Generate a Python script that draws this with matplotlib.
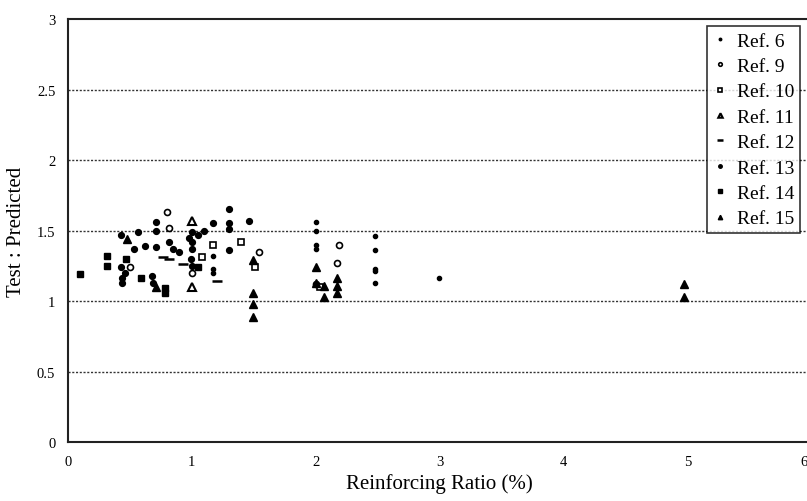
import matplotlib
matplotlib.use('Agg')
import matplotlib.pyplot as plt

plt.rcParams['font.family'] = ['Liberation Serif', 'DejaVu Serif']

# data: reinforcing ratio (%) and test : predicted
ref6_x = [2.0, 2.0, 2.0, 2.0, 2.48, 2.48, 2.48, 2.48, 2.48, 2.99, 1.17, 1.17, 1.17]
ref6_y = [1.56, 1.50, 1.40, 1.37, 1.46, 1.36, 1.23, 1.21, 1.13, 1.16, 1.32, 1.23, 1.20]

ref9_x = [0.80, 0.82, 0.50, 1.00, 1.54, 2.19, 2.17, 2.00]
ref9_y = [1.63, 1.52, 1.24, 1.20, 1.35, 1.40, 1.27, 1.12]

ref10_x = [1.08, 1.17, 1.40, 1.51, 2.03]
ref10_y = [1.31, 1.40, 1.42, 1.24, 1.10]

ref11_x = [1.00, 1.00]
ref11_y = [1.57, 1.10]

ref12_x = [0.77, 0.82, 0.93, 1.20]
ref12_y = [1.31, 1.30, 1.26, 1.14]

ref13_x = [0.43, 0.57, 0.53, 0.62, 0.71, 0.71, 0.71, 0.82, 0.85, 0.90,
           1.00, 0.98, 1.00, 1.05, 1.10, 1.17, 1.00, 0.99, 1.00,
           1.30, 1.30, 1.30, 1.30, 1.46, 0.43, 0.44, 0.46, 0.44, 0.68, 0.69]
ref13_y = [1.47, 1.49, 1.37, 1.39, 1.56, 1.50, 1.38, 1.42, 1.37, 1.35,
           1.49, 1.45, 1.42, 1.47, 1.50, 1.55, 1.37, 1.30, 1.25,
           1.65, 1.55, 1.51, 1.36, 1.57, 1.24, 1.16, 1.20, 1.13, 1.18, 1.13]

ref14_x = [0.10, 0.32, 0.32, 0.59, 0.78, 0.78, 1.05, 0.47]
ref14_y = [1.19, 1.25, 1.32, 1.16, 1.06, 1.09, 1.24, 1.30]

ref15_x = [0.48, 1.49, 1.49, 1.49, 1.49, 2.00, 2.00, 2.07, 2.07, 2.17, 2.17, 2.17, 4.97, 4.97, 0.71]
ref15_y = [1.44, 1.29, 1.06, 0.98, 0.89, 1.24, 1.13, 1.11, 1.03, 1.16, 1.11, 1.06, 1.12, 1.03, 1.10]

x_ticks = [0, 1, 2, 3, 4, 5, 6]
x_labels = ['0', '1', '2', '3', '4', '5', '']
y_ticks = [0, 0.5, 1, 1.5, 2, 2.5, 3]
y_labels = ['0', '0.5', '1', '1.5', '2', '2.5', '3']

fig = plt.figure(figsize=(8.07, 5.02), dpi=100)
# the scan cuts the plot off on the right, so the axes run past the edge
ax = fig.add_axes([0.084, 0.1175, 0.922, 0.8425])

# dotted reference lines
for yv in [0.5, 1.0, 1.5, 2.0, 2.5]:
    ax.axhline(yv, color='#333333', linestyle=(0, (1.5, 1.2)), linewidth=1.0, zorder=1)

ax.plot(ref6_x, ref6_y, 'o', color='black', markersize=3, linestyle='none', label='Ref. 6')
ax.plot(ref9_x, ref9_y, 'o', markerfacecolor='white', markeredgecolor='black', markeredgewidth=1.2,
        markersize=4.3, linestyle='none', label='Ref. 9')
ax.plot(ref10_x, ref10_y, 's', markerfacecolor='white', markeredgecolor='black', markeredgewidth=1.2,
        markersize=4.8, linestyle='none', label='Ref. 10')
ax.plot(ref11_x, ref11_y, '^', markerfacecolor='white', markeredgecolor='black', markeredgewidth=1.5,
        markersize=5.3, linestyle='none', label='Ref. 11')
ax.plot(ref12_x, ref12_y, '_', color='black', markersize=7, markeredgewidth=1.8, linestyle='none', label='Ref. 12')
ax.plot(ref13_x, ref13_y, 'o', color='black', markersize=4.2, linestyle='none', label='Ref. 13')
ax.plot(ref14_x, ref14_y, 's', color='black', markersize=4.3, linestyle='none', label='Ref. 14')
ax.plot(ref15_x, ref15_y, '^', color='black', markersize=5.3, linestyle='none', label='Ref. 15')

ax.set_xlim(0, 6)
ax.set_ylim(0, 3)
ax.set_xticks(x_ticks, x_labels)
ax.set_yticks(y_ticks, y_labels)
ax.tick_params(length=0, labelsize=10.5, pad=9)
# last x label sits at the cut edge, pull it back inside the picture
ax.annotate('6', xy=(6, 0), xycoords='data', xytext=(-3, -9), textcoords='offset points',
            ha='right', va='top', fontsize=10.5, annotation_clip=False)
for s in ax.spines.values():
    s.set_linewidth(1.5)
    s.set_color('#222222')

ax.set_xlabel('Reinforcing Ratio (%)', fontsize=15, labelpad=4)
ax.set_ylabel('Test : Predicted', fontsize=15, labelpad=8)

leg = ax.legend(loc='upper right', bbox_to_anchor=(0.9839, 0.983), fontsize=14, frameon=True,
                fancybox=False, edgecolor='black', handlelength=0.7, handletextpad=0.5,
                labelspacing=0.4, borderpad=0.3, borderaxespad=0, markerscale=0.6)
leg.get_frame().set_linewidth(1.2)

fig.savefig('out.png', dpi=100)
